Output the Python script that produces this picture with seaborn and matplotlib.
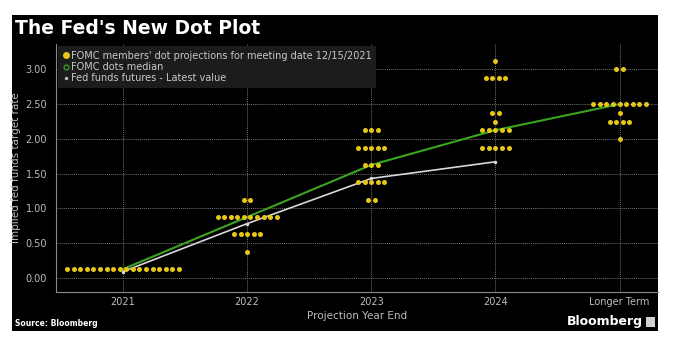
import numpy as np
import pandas as pd
import matplotlib.pyplot as plt
from matplotlib.patches import Rectangle
from matplotlib.lines import Line2D
import seaborn as sns

categories = ["2021", "2022", "2023", "2024", "Longer Term"]

# FOMC dots, one entry per participant
dots_2021 = [0.125] * 18
dots_2022 = [1.125] * 2 + [0.875] * 10 + [0.625] * 5 + [0.375] * 1
dots_2023 = [2.125] * 3 + [1.875] * 5 + [1.625] * 3 + [1.375] * 5 + [1.125] * 2
dots_2024 = [3.125] * 1 + [2.875] * 4 + [2.375] * 2 + [2.25] * 1 + [2.125] * 5 + [1.875] * 5
dots_longer = [3.0] * 2 + [2.5] * 9 + [2.375] * 1 + [2.25] * 4 + [2.0] * 1

median_vals = [0.125, 0.875, 1.625, 2.125, 2.5]
futures_vals = [0.09, 0.78, 1.43, 1.67]

all_dots = [dots_2021, dots_2022, dots_2023, dots_2024, dots_longer]

# lay out dots side by side in each row
rows = []
step = 0.053
for ci, vals in enumerate(all_dots):
    s = pd.Series(vals)
    for v, n in s.value_counts(sort=False).items():
        for i in range(n):
            rows.append({"x": ci + (i - (n - 1) / 2) * step, "rate": v})
dots = pd.DataFrame(rows)
med = pd.DataFrame({"x": range(len(median_vals)), "rate": median_vals})
fut = pd.DataFrame({"x": range(len(futures_vals)), "rate": futures_vals})

sns.set_style("dark")
plt.rcParams["font.family"] = ["DejaVu Sans"]

fig = plt.figure(figsize=(7, 3.54), dpi=100, facecolor="white")
fig.patches.append(Rectangle((12 / 700, 1 - 331 / 354), 646 / 700, 316 / 354,
                             transform=fig.transFigure, facecolor="black",
                             edgecolor="none", zorder=-10))
ax = fig.add_axes([56 / 700, 1 - 291.7 / 354, 602 / 700, 248 / 354])
ax.set_facecolor("black")

sns.lineplot(data=med, x="x", y="rate", ax=ax, color="#3aa51e", lw=1.5, zorder=3)
sns.lineplot(data=fut, x="x", y="rate", ax=ax, color="#d8d8d8", lw=1.2,
             marker="o", markersize=2.5, markeredgewidth=0, zorder=3)
sns.scatterplot(data=dots, x="x", y="rate", ax=ax, color="#e6c619", s=13,
                linewidth=0, zorder=4)

ax.set_xlim(-0.54, 4.31)
ax.set_ylim(-0.2, 3.37)
ax.set_xticks(range(len(categories)))
ax.set_xticklabels(categories)
ax.set_yticks(np.arange(0, 3.01, 0.5))
ax.set_yticklabels([f"{t:.2f}" for t in np.arange(0, 3.01, 0.5)])
ax.grid(True, color="#6e6e6e", linestyle=(0, (1, 1)), linewidth=0.7)
ax.tick_params(axis="both", colors="#bdbdbd", labelsize=7, length=3, width=0.8)
ax.tick_params(axis="x", length=0, pad=4)
for side in ["top", "right"]:
    ax.spines[side].set_visible(False)
for side in ["left", "bottom"]:
    ax.spines[side].set_color("#8a8a8a")
    ax.spines[side].set_linewidth(0.8)
ax.set_xlabel("Projection Year End", color="#bdbdbd", fontsize=7.5, labelpad=3)
ax.set_ylabel("Implied fed funds target rate", color="#bdbdbd", fontsize=7.5, labelpad=3)

handles = [
    Line2D([], [], marker="o", ls="none", color="#e6c619", markersize=5, markeredgewidth=0),
    Line2D([], [], marker="o", ls="none", markerfacecolor="none", markeredgecolor="#3aa51e",
           markersize=3.5, markeredgewidth=0.9),
    Line2D([], [], marker="o", ls="none", color="#bdbdbd", markersize=2.5, markeredgewidth=0),
]
labels = ["FOMC members' dot projections for meeting date 12/15/2021",
          "FOMC dots median", "Fed funds futures - Latest value"]
leg = ax.legend(handles, labels, loc="upper left", bbox_to_anchor=(0.0, 1.0),
                frameon=True, fontsize=7, labelcolor="#c8c8c8", handlelength=0.6,
                handletextpad=0.2, labelspacing=0.15, borderpad=0.5,
                borderaxespad=0.2, fancybox=False)
leg.get_frame().set_facecolor("#1c1c1c")
leg.get_frame().set_edgecolor("none")
leg.get_frame().set_alpha(1)

fig.text(15 / 700, 1 - 28 / 354, "The Fed's New Dot Plot", color="white",
         fontsize=13.5, fontweight="bold", va="center", ha="left")
fig.text(15 / 700, 1 - 323 / 354, "Source: Bloomberg", color="white",
         fontsize=5.5, fontweight="bold", va="center", ha="left")
fig.text(643 / 700, 1 - 322 / 354, "Bloomberg", color="white",
         fontsize=9, fontweight="bold", va="center", ha="right")
fig.patches.append(Rectangle((646 / 700, 1 - 327 / 354), 9 / 700, 10 / 354,
                             transform=fig.transFigure, facecolor="#d0d0d0",
                             edgecolor="none"))

fig.savefig("out.png", dpi=100, facecolor="white")
